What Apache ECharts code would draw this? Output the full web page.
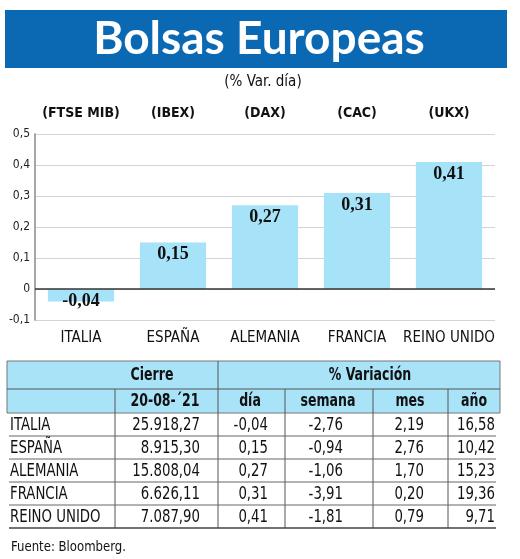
<!DOCTYPE html>
<html>
<head>
<meta charset="utf-8">
<script src="https://cdn.jsdelivr.net/npm/echarts@6/dist/echarts.min.js"></script>
<style>
html,body{margin:0;padding:0;background:#fff;}
#chart{width:520px;height:559px;}
</style>
</head>
<body>
<div id="chart"></div>
<script>
// ---- Data ----
var countries = ['ITALIA', 'ESPAÑA', 'ALEMANIA', 'FRANCIA', 'REINO UNIDO'];
var indices = ['(FTSE MIB)', '(IBEX)', '(DAX)', '(CAC)', '(UKX)'];
var dayChange = [-0.04, 0.15, 0.27, 0.31, 0.41];
var closeValues = [25918.27, 8915.30, 15808.04, 6626.11, 7087.90];
var weekChange = [-2.76, -0.94, -1.06, -3.91, -1.81];
var monthChange = [2.19, 2.76, 1.70, 0.20, 0.79];
var yearChange = [16.58, 10.42, 15.23, 19.36, 9.71];
var closeDate = '20-08-´21';
var headerTop = ['Cierre', '% Variación'];
var headerSub = [closeDate, 'día', 'semana', 'mes', 'año'];

// ---- Helpers ----
var NARROW = "'Liberation Sans Narrow','DejaVu Sans Condensed','Roboto Condensed',sans-serif";
function esNum(v, d) {
  var s = Math.abs(v).toFixed(d);
  var parts = s.split('.');
  var intPart = parts[0].replace(/\B(?=(\d{3})+(?!\d))/g, '.');
  return (v < 0 ? '-' : '') + intPart + (parts[1] ? ',' + parts[1] : '');
}

var chart = echarts.init(document.getElementById('chart'), null, {renderer: 'canvas'});

// ---- Table graphics ----
var g = [];
var blue = '#0b69b3';
var light = '#a9e3f8';
var lineC = '#555';
function txt(x, y, text, font, align, sx) {
  return {type: 'text', x: x, y: y, scaleX: sx || 1,
    style: {text: text, font: font, fill: '#111', textAlign: align, textVerticalAlign: 'middle'}};
}
// banner
g.push({type: 'rect', shape: {x: 5, y: 10, width: 502, height: 58}, style: {fill: blue}});
g.push({type: 'text', x: 259, y: 39, style: {text: 'Bolsas Europeas', fill: '#fff', font: 'bold 46px Lato, "Open Sans", sans-serif', textAlign: 'center', textVerticalAlign: 'middle'}});
g.push(txt(263, 82, '(% Var. día)', '15px ' + NARROW, 'center'));

var tX0 = 7, tX1 = 500, tY0 = 361, tYmid = 389, tYh = 413;
var rowH = 23, rowsTop = tYh;
var vCols = [115, 218, 285, 373, 448];
// header background
g.push({type: 'rect', shape: {x: tX0, y: tY0, width: tX1 - tX0, height: tYh - tY0}, style: {fill: light, stroke: '#777', lineWidth: 1}});
g.push({type: 'line', shape: {x1: tX0, y1: tYmid, x2: tX1, y2: tYmid}, style: {stroke: lineC, lineWidth: 1}});
var tableBottom = rowsTop + rowH * countries.length;
vCols.forEach(function (x) {
  g.push({type: 'line', shape: {x1: x, y1: x === 218 ? tY0 : tYmid, x2: x, y2: tableBottom}, style: {stroke: lineC, lineWidth: 1}});
});
// header texts
var hFont = 'bold 17px ' + NARROW;
var hS = 0.82;
g.push(txt(152, tY0 + 14.5, headerTop[0], hFont, 'center', hS));
g.push(txt(370, tY0 + 14.5, headerTop[1], hFont, 'center', hS));
var subX = [165, 250, 328, 410, 474];
headerSub.forEach(function (t, i) {
  g.push(txt(subX[i], tYmid + 12.5, t, hFont, 'center', hS));
});
// data rows
var dFont = '17px ' + NARROW;
var dS = 0.87;
var rightX = [200, 268, 343, 424, 495];
countries.forEach(function (c, r) {
  var cy = rowsTop + r * rowH + rowH / 2 + 1;
  var vals = [esNum(closeValues[r], 2), esNum(dayChange[r], 2), esNum(weekChange[r], 2), esNum(monthChange[r], 2), esNum(yearChange[r], 2)];
  g.push(txt(10, cy, c, dFont, 'left', dS));
  vals.forEach(function (v, i) {
    g.push(txt(rightX[i], cy, v, dFont, 'right', dS));
  });
  var ly = rowsTop + (r + 1) * rowH;
  g.push({type: 'line', shape: {x1: 9, y1: ly, x2: 496, y2: ly}, style: {stroke: r === countries.length - 1 ? '#444' : '#666', lineWidth: r === countries.length - 1 ? 1.6 : 1}});
});
g.push(txt(11, 547, 'Fuente: Bloomberg.', '14px ' + NARROW, 'left', 0.93));

var option = {
  animation: false,
  backgroundColor: '#fff',
  grid: {left: 35, right: 25, top: 134, bottom: 239, containLabel: false},
  xAxis: [{
    type: 'category',
    data: countries,
    position: 'bottom',
    axisLine: {show: false, onZero: false},
    axisTick: {show: false},
    axisLabel: {color: '#111', fontSize: 15, fontFamily: NARROW, margin: 11, interval: 0}
  }, {
    type: 'category',
    data: indices,
    position: 'top',
    axisLine: {show: false},
    axisTick: {show: false},
    axisLabel: {color: '#111', fontSize: 14, fontWeight: 'bold', fontFamily: NARROW, margin: 14, interval: 0}
  }],
  yAxis: {
    type: 'value',
    min: -0.1, max: 0.5, interval: 0.1,
    axisLine: {show: true, lineStyle: {color: '#888', width: 1.5}},
    axisTick: {show: false},
    splitLine: {show: true, lineStyle: {color: '#d4d4d4', width: 1}},
    axisLabel: {
      color: '#222', fontSize: 12, fontFamily: NARROW, margin: 5,
      formatter: function (v) { var r = Math.round(v * 10) / 10; return r === 0 ? '0' : String(r).replace('.', ','); }
    }
  },
  series: [{
    type: 'bar',
    data: dayChange,
    xAxisIndex: 0,
    barCategoryGap: '28%',
    itemStyle: {color: '#a6e2f8'},
    label: {
      show: true, position: 'insideTop', distance: 3,
      color: '#111', fontSize: 18, fontWeight: 'bold', fontFamily: "'Liberation Serif','DejaVu Serif',serif",
      formatter: function (p) { return esNum(p.value, 2); }
    },
    markLine: {
      silent: true, symbol: 'none', label: {show: false},
      lineStyle: {color: '#333', width: 1.5, type: 'solid'},
      data: [{yAxis: 0}]
    }
  }],
  graphic: g
};
chart.setOption(option);
</script>
</body>
</html>
